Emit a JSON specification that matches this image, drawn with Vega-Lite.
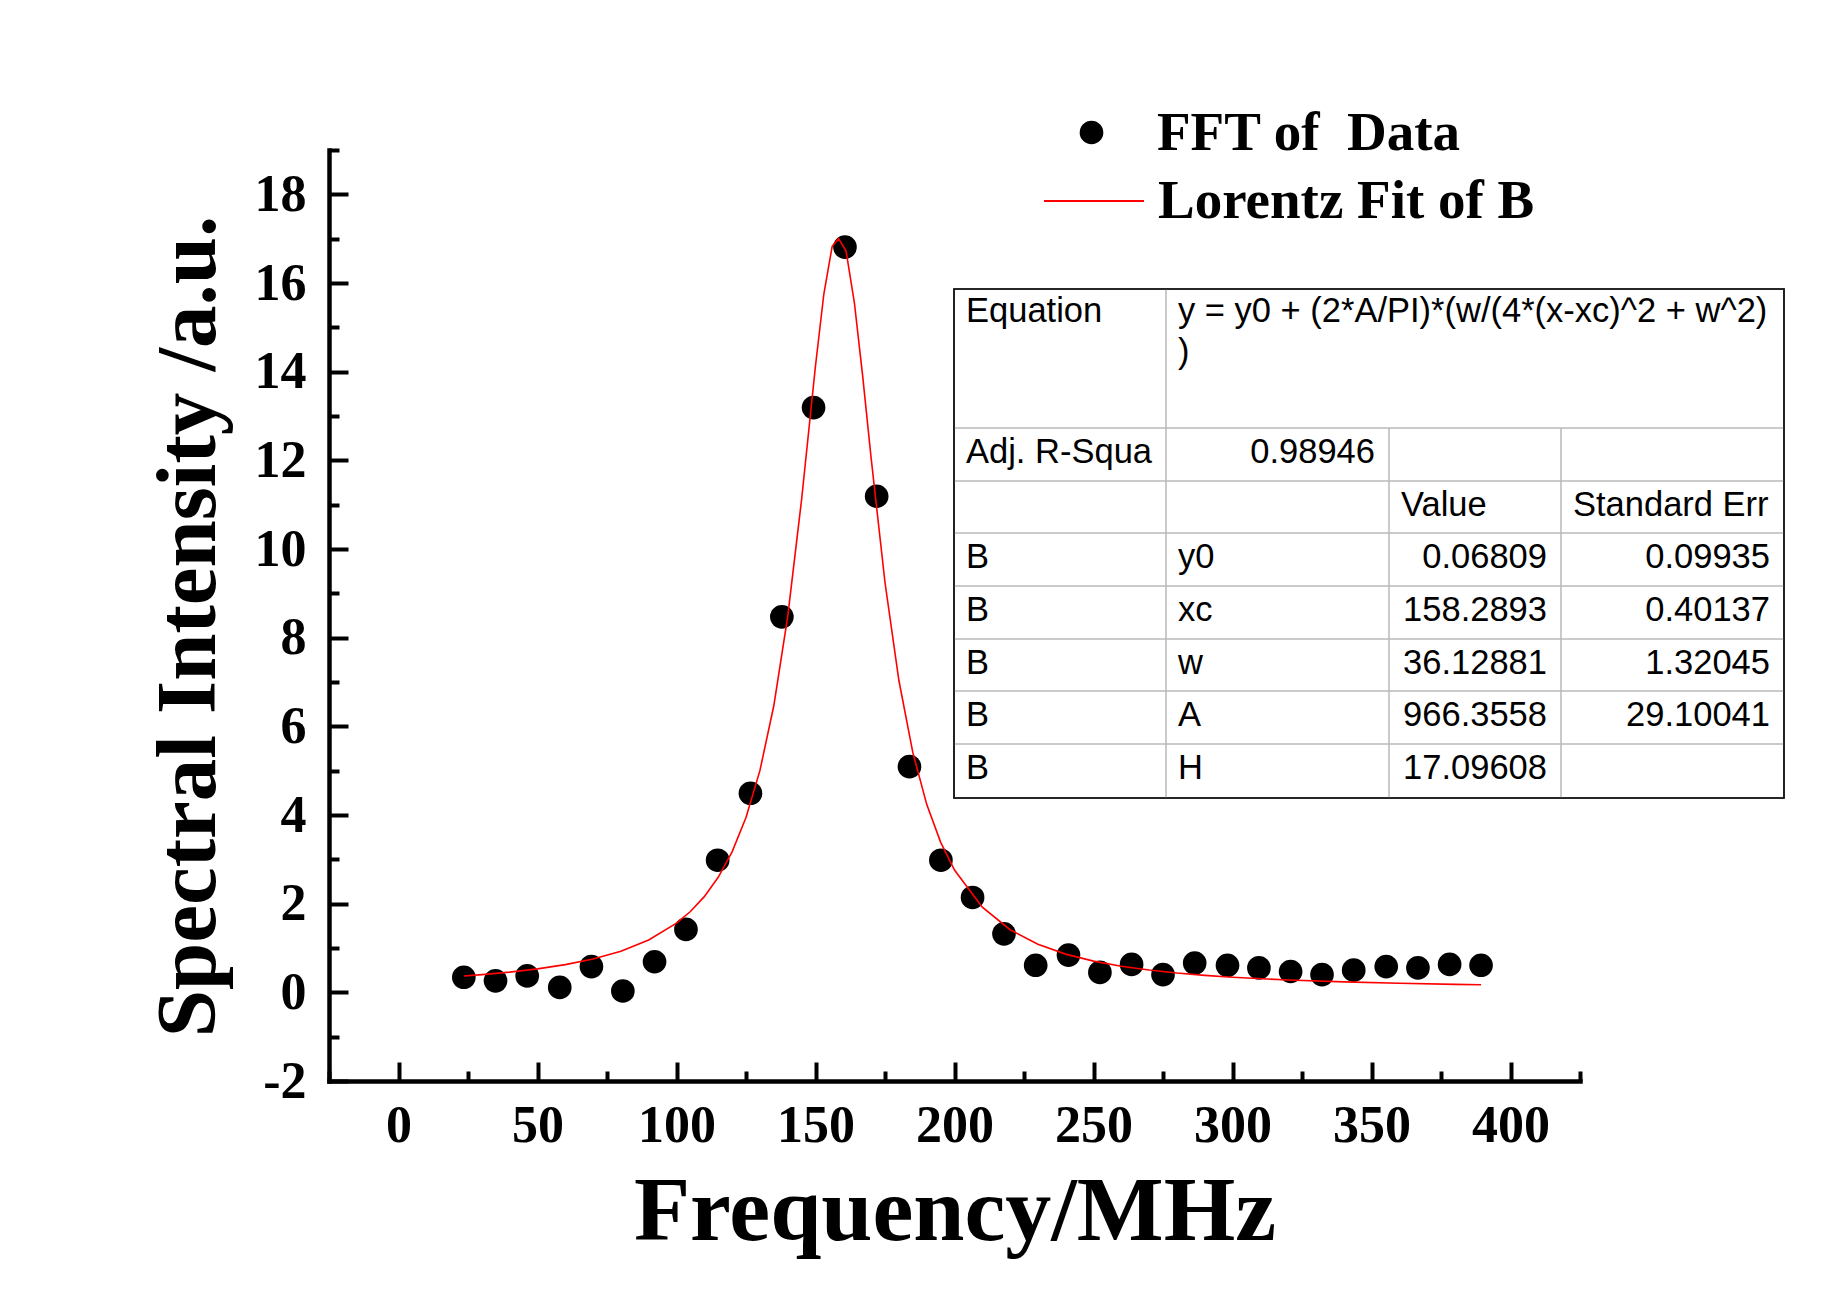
{
  "$schema": "https://vega.github.io/schema/vega-lite/v6.json",
  "width": 1251,
  "height": 931,
  "autosize": {"type": "none"},
  "padding": {"left": 329, "top": 150, "right": 254, "bottom": 215},
  "background": "white",
  "config": {"view": {"stroke": null}},
  "datasets": {
    "fft": [
      {"freq": 23.5, "intensity": 0.34},
      {"freq": 34.9, "intensity": 0.26},
      {"freq": 46.3, "intensity": 0.37},
      {"freq": 58.0, "intensity": 0.11},
      {"freq": 69.4, "intensity": 0.58},
      {"freq": 80.7, "intensity": 0.03},
      {"freq": 92.1, "intensity": 0.69},
      {"freq": 103.4, "intensity": 1.42},
      {"freq": 114.8, "intensity": 2.98},
      {"freq": 126.6, "intensity": 4.49},
      {"freq": 137.9, "intensity": 8.47},
      {"freq": 149.3, "intensity": 13.19},
      {"freq": 160.6, "intensity": 16.81},
      {"freq": 172.0, "intensity": 11.19},
      {"freq": 183.8, "intensity": 5.09},
      {"freq": 195.1, "intensity": 2.98},
      {"freq": 206.5, "intensity": 2.14},
      {"freq": 217.8, "intensity": 1.32},
      {"freq": 229.2, "intensity": 0.61},
      {"freq": 241.0, "intensity": 0.84},
      {"freq": 252.3, "intensity": 0.45},
      {"freq": 263.7, "intensity": 0.63},
      {"freq": 275.0, "intensity": 0.40},
      {"freq": 286.4, "intensity": 0.66},
      {"freq": 298.2, "intensity": 0.61},
      {"freq": 309.5, "intensity": 0.55},
      {"freq": 320.9, "intensity": 0.47},
      {"freq": 332.2, "intensity": 0.40},
      {"freq": 343.6, "intensity": 0.50},
      {"freq": 355.3, "intensity": 0.58},
      {"freq": 366.7, "intensity": 0.55},
      {"freq": 378.1, "intensity": 0.63},
      {"freq": 389.4, "intensity": 0.61}
    ],
    "fit": [
      {"freq": 23.5, "intensity": 0.369},
      {"freq": 30, "intensity": 0.399},
      {"freq": 40, "intensity": 0.456},
      {"freq": 50, "intensity": 0.529},
      {"freq": 60, "intensity": 0.625},
      {"freq": 70, "intensity": 0.752},
      {"freq": 80, "intensity": 0.929},
      {"freq": 90, "intensity": 1.182},
      {"freq": 100, "intensity": 1.560},
      {"freq": 105, "intensity": 1.823},
      {"freq": 110, "intensity": 2.158},
      {"freq": 115, "intensity": 2.594},
      {"freq": 120, "intensity": 3.168},
      {"freq": 125, "intensity": 3.942},
      {"freq": 130, "intensity": 5.000},
      {"freq": 135, "intensity": 6.464},
      {"freq": 140, "intensity": 8.476},
      {"freq": 145, "intensity": 11.116},
      {"freq": 150, "intensity": 14.134},
      {"freq": 153, "intensity": 15.752},
      {"freq": 156, "intensity": 16.827},
      {"freq": 158.3, "intensity": 17.0},
      {"freq": 161, "intensity": 16.721},
      {"freq": 164, "intensity": 15.549},
      {"freq": 167, "intensity": 13.884},
      {"freq": 170, "intensity": 12.058},
      {"freq": 175, "intensity": 9.244},
      {"freq": 180, "intensity": 7.034},
      {"freq": 185, "intensity": 5.412},
      {"freq": 190, "intensity": 4.240},
      {"freq": 195, "intensity": 3.388},
      {"freq": 200, "intensity": 2.758},
      {"freq": 210, "intensity": 1.920},
      {"freq": 220, "intensity": 1.412},
      {"freq": 230, "intensity": 1.084},
      {"freq": 240, "intensity": 0.862},
      {"freq": 250, "intensity": 0.704},
      {"freq": 260, "intensity": 0.589},
      {"freq": 270, "intensity": 0.502},
      {"freq": 280, "intensity": 0.435},
      {"freq": 290, "intensity": 0.383},
      {"freq": 300, "intensity": 0.340},
      {"freq": 320, "intensity": 0.278},
      {"freq": 340, "intensity": 0.235},
      {"freq": 360, "intensity": 0.204},
      {"freq": 380, "intensity": 0.180},
      {"freq": 389.4, "intensity": 0.171}
    ],
    "cells": [
      {"row": 0, "col": 0, "text": "Equation", "kind": "label"},
      {"row": 0, "col": 1, "text": "y = y0 + (2*A/PI)*(w/(4*(x-xc)^2 + w^2)\n)", "kind": "label"},
      {"row": 1, "col": 0, "text": "Adj. R-Squa", "kind": "label"},
      {"row": 1, "col": 1, "text": "0.98946", "kind": "number"},
      {"row": 2, "col": 2, "text": "Value", "kind": "label"},
      {"row": 2, "col": 3, "text": "Standard Err", "kind": "label"},
      {"row": 3, "col": 0, "text": "B", "kind": "label"},
      {"row": 3, "col": 1, "text": "y0", "kind": "label"},
      {"row": 3, "col": 2, "text": "0.06809", "kind": "number"},
      {"row": 3, "col": 3, "text": "0.09935", "kind": "number"},
      {"row": 4, "col": 0, "text": "B", "kind": "label"},
      {"row": 4, "col": 1, "text": "xc", "kind": "label"},
      {"row": 4, "col": 2, "text": "158.2893", "kind": "number"},
      {"row": 4, "col": 3, "text": "0.40137", "kind": "number"},
      {"row": 5, "col": 0, "text": "B", "kind": "label"},
      {"row": 5, "col": 1, "text": "w", "kind": "label"},
      {"row": 5, "col": 2, "text": "36.12881", "kind": "number"},
      {"row": 5, "col": 3, "text": "1.32045", "kind": "number"},
      {"row": 6, "col": 0, "text": "B", "kind": "label"},
      {"row": 6, "col": 1, "text": "A", "kind": "label"},
      {"row": 6, "col": 2, "text": "966.3558", "kind": "number"},
      {"row": 6, "col": 3, "text": "29.10041", "kind": "number"},
      {"row": 7, "col": 0, "text": "B", "kind": "label"},
      {"row": 7, "col": 1, "text": "H", "kind": "label"},
      {"row": 7, "col": 2, "text": "17.09608", "kind": "number"}
    ],
    "gridlines": [
      {"r1": 1, "r2": 1, "c1": 0, "c2": 4},
      {"r1": 2, "r2": 2, "c1": 0, "c2": 4},
      {"r1": 3, "r2": 3, "c1": 0, "c2": 4},
      {"r1": 4, "r2": 4, "c1": 0, "c2": 4},
      {"r1": 5, "r2": 5, "c1": 0, "c2": 4},
      {"r1": 6, "r2": 6, "c1": 0, "c2": 4},
      {"r1": 7, "r2": 7, "c1": 0, "c2": 4},
      {"r1": 0, "r2": 8, "c1": 1, "c2": 1},
      {"r1": 1, "r2": 8, "c1": 2, "c2": 2},
      {"r1": 1, "r2": 8, "c1": 3, "c2": 3}
    ],
    "frame": [{"r1": 0, "r2": 8, "c1": 0, "c2": 4}]
  },
  "layer": [
    {
      "layer": [
        {
          "data": {"name": "fft"},
          "mark": {"type": "point", "filled": true, "opacity": 1, "size": 560, "strokeWidth": 0, "color": "black"},
          "encoding": {
            "x": {
              "field": "freq", "type": "quantitative",
              "scale": {"domain": [-25, 425], "nice": false, "zero": false},
              "axis": {
                "orient": "bottom", "values": [0, 50, 100, 150, 200, 250, 300, 350, 400],
                "title": "Frequency/MHz", "grid": false,
                "domainColor": "black", "domainWidth": 4.5, "domainCap": "square",
                "tickColor": "black", "tickWidth": 4, "tickSize": -19,
                "labelFont": "Liberation Serif", "labelFontWeight": "bold", "labelFontSize": 52,
                "labelColor": "black", "labelPadding": 38, "labelFlush": false, "labelOverlap": false,
                "titleFont": "Liberation Serif", "titleFontWeight": "bold", "titleFontSize": 92,
                "titleColor": "black", "titlePadding": 15
              }
            },
            "y": {
              "field": "intensity", "type": "quantitative",
              "scale": {"domain": [-2, 19], "nice": false, "zero": false},
              "axis": {
                "orient": "left", "values": [-2, 0, 2, 4, 6, 8, 10, 12, 14, 16, 18],
                "labelExpr": "replace(datum.label, '\u2212', '-')",
                "title": "Spectral Intensity /a.u.", "grid": false,
                "domainColor": "black", "domainWidth": 4.5, "domainCap": "square",
                "tickColor": "black", "tickWidth": 4, "tickSize": -19,
                "labelFont": "Liberation Serif", "labelFontWeight": "bold", "labelFontSize": 52,
                "labelColor": "black", "labelPadding": 42, "labelFlush": false, "labelOverlap": false,
                "titleFont": "Liberation Serif", "titleFontWeight": "bold", "titleFontSize": 85,
                "titleColor": "black", "titlePadding": 22, "titleY": 476
              }
            },
            "shape": {
              "datum": "FFT of\u00a0 Data",
              "type": "nominal",
              "scale": {"domain": ["FFT of\u00a0 Data"], "range": ["circle"]},
              "legend": {
                "title": null, "orient": "none", "legendX": 735, "legendY": -45,
                "padding": 0, "symbolSize": 560, "symbolFillColor": "black", "symbolStrokeWidth": 0,
                "labelOffset": 38,
                "labelFont": "Liberation Serif", "labelFontWeight": "bold", "labelFontSize": 55,
                "labelColor": "black", "labelLimit": 0
              }
            }
          }
        },
        {
          "data": {"name": "fit"},
          "mark": {"type": "line", "strokeWidth": 1.6},
          "encoding": {
            "x": {
              "field": "freq", "type": "quantitative",
              "axis": {
                "orient": "bottom", "values": [-25, 25, 75, 125, 175, 225, 275, 325, 375, 425],
                "title": null, "labels": false, "domain": false, "grid": false,
                "tickColor": "black", "tickWidth": 4, "tickSize": -10
              }
            },
            "y": {
              "field": "intensity", "type": "quantitative",
              "axis": {
                "orient": "left", "values": [-1, 1, 3, 5, 7, 9, 11, 13, 15, 17, 19],
                "title": null, "labels": false, "domain": false, "grid": false,
                "tickColor": "black", "tickWidth": 4, "tickSize": -10
              }
            },
            "color": {
              "datum": "Lorentz Fit of B",
              "type": "nominal",
              "scale": {"domain": ["Lorentz Fit of B"], "range": ["red"]},
              "legend": {
                "title": null, "orient": "none", "legendX": 714, "legendY": 0,
                "padding": 0, "symbolType": "stroke", "symbolSize": 10000, "symbolStrokeWidth": 2,
                "symbolStrokeColor": "red", "labelOffset": 13,
                "labelFont": "Liberation Serif", "labelFontWeight": "bold", "labelFontSize": 55,
                "labelColor": "black", "labelLimit": 0
              }
            }
          }
        }
      ],
      "resolve": {"axis": {"x": "independent", "y": "independent"}}
    },
    {
      "layer": [
        {
          "data": {"name": "frame"},
          "mark": {"type": "rect", "fill": "white", "stroke": "#1a1a1a", "strokeWidth": 1.6},
          "encoding": {
            "x": {"field": "c1", "type": "quantitative", "axis": null,
                  "scale": {"type": "linear", "domain": [0, 1, 2, 3, 4], "range": [625, 837, 1060, 1232, 1455], "nice": false, "zero": false}},
            "x2": {"field": "c2"},
            "y": {"field": "r1", "type": "quantitative", "axis": null,
                  "scale": {"type": "linear", "domain": [0, 1, 2, 3, 4, 5, 6, 7, 8], "range": [139, 278, 331, 383, 436, 489, 541, 594, 648], "nice": false, "zero": false}},
            "y2": {"field": "r2"}
          }
        },
        {
          "data": {"name": "gridlines"},
          "mark": {"type": "rule", "color": "#b8b8b8", "strokeWidth": 1.5},
          "encoding": {
            "x": {"field": "c1", "type": "quantitative", "axis": null,
                  "scale": {"type": "linear", "domain": [0, 1, 2, 3, 4], "range": [625, 837, 1060, 1232, 1455], "nice": false, "zero": false}},
            "x2": {"field": "c2"},
            "y": {"field": "r1", "type": "quantitative", "axis": null},
            "y2": {"field": "r2"}
          }
        },
        {
          "data": {"name": "frame"},
          "mark": {"type": "rect", "fill": null, "filled": false, "stroke": "#1a1a1a", "strokeWidth": 1.6},
          "encoding": {
            "x": {"field": "c1", "type": "quantitative", "axis": null,
                  "scale": {"type": "linear", "domain": [0, 1, 2, 3, 4], "range": [625, 837, 1060, 1232, 1455], "nice": false, "zero": false}},
            "x2": {"field": "c2"},
            "y": {"field": "r1", "type": "quantitative", "axis": null},
            "y2": {"field": "r2"}
          }
        },
        {
          "data": {"name": "cells"},
          "transform": [{"filter": "datum.kind === 'label' && datum.row === 0"}],
          "mark": {"type": "text", "align": "left", "baseline": "top", "dx": 12, "dy": 6,
                   "font": "Liberation Sans", "fontSize": 34.5, "color": "black", "lineBreak": "\n", "lineHeight": 41},
          "encoding": {
            "x": {"field": "col", "type": "quantitative", "axis": null,
                  "scale": {"type": "linear", "domain": [0, 1, 2, 3, 4], "range": [625, 837, 1060, 1232, 1455], "nice": false, "zero": false}},
            "y": {"field": "row", "type": "quantitative", "axis": null},
            "text": {"field": "text"}
          }
        },
        {
          "data": {"name": "cells"},
          "transform": [{"filter": "datum.kind === 'label' && datum.row > 0"}],
          "mark": {"type": "text", "align": "left", "baseline": "middle", "dx": 12, "dy": 25,
                   "font": "Liberation Sans", "fontSize": 34.5, "color": "black"},
          "encoding": {
            "x": {"field": "col", "type": "quantitative", "axis": null,
                  "scale": {"type": "linear", "domain": [0, 1, 2, 3, 4], "range": [625, 837, 1060, 1232, 1455], "nice": false, "zero": false}},
            "y": {"field": "row", "type": "quantitative", "axis": null},
            "text": {"field": "text"}
          }
        },
        {
          "data": {"name": "cells"},
          "transform": [{"filter": "datum.kind === 'number'"}],
          "mark": {"type": "text", "align": "right", "baseline": "middle", "dx": -14, "dy": 25,
                   "font": "Liberation Sans", "fontSize": 34.5, "color": "black"},
          "encoding": {
            "x": {"field": "col", "type": "quantitative", "axis": null,
                  "scale": {"type": "linear", "domain": [0, 1, 2, 3], "range": [837, 1060, 1232, 1455], "nice": false, "zero": false}},
            "y": {"field": "row", "type": "quantitative", "axis": null},
            "text": {"field": "text"}
          }
        }
      ],
      "resolve": {"scale": {"x": "independent"}}
    }
  ],
  "resolve": {"scale": {"x": "independent", "y": "independent"}}
}
